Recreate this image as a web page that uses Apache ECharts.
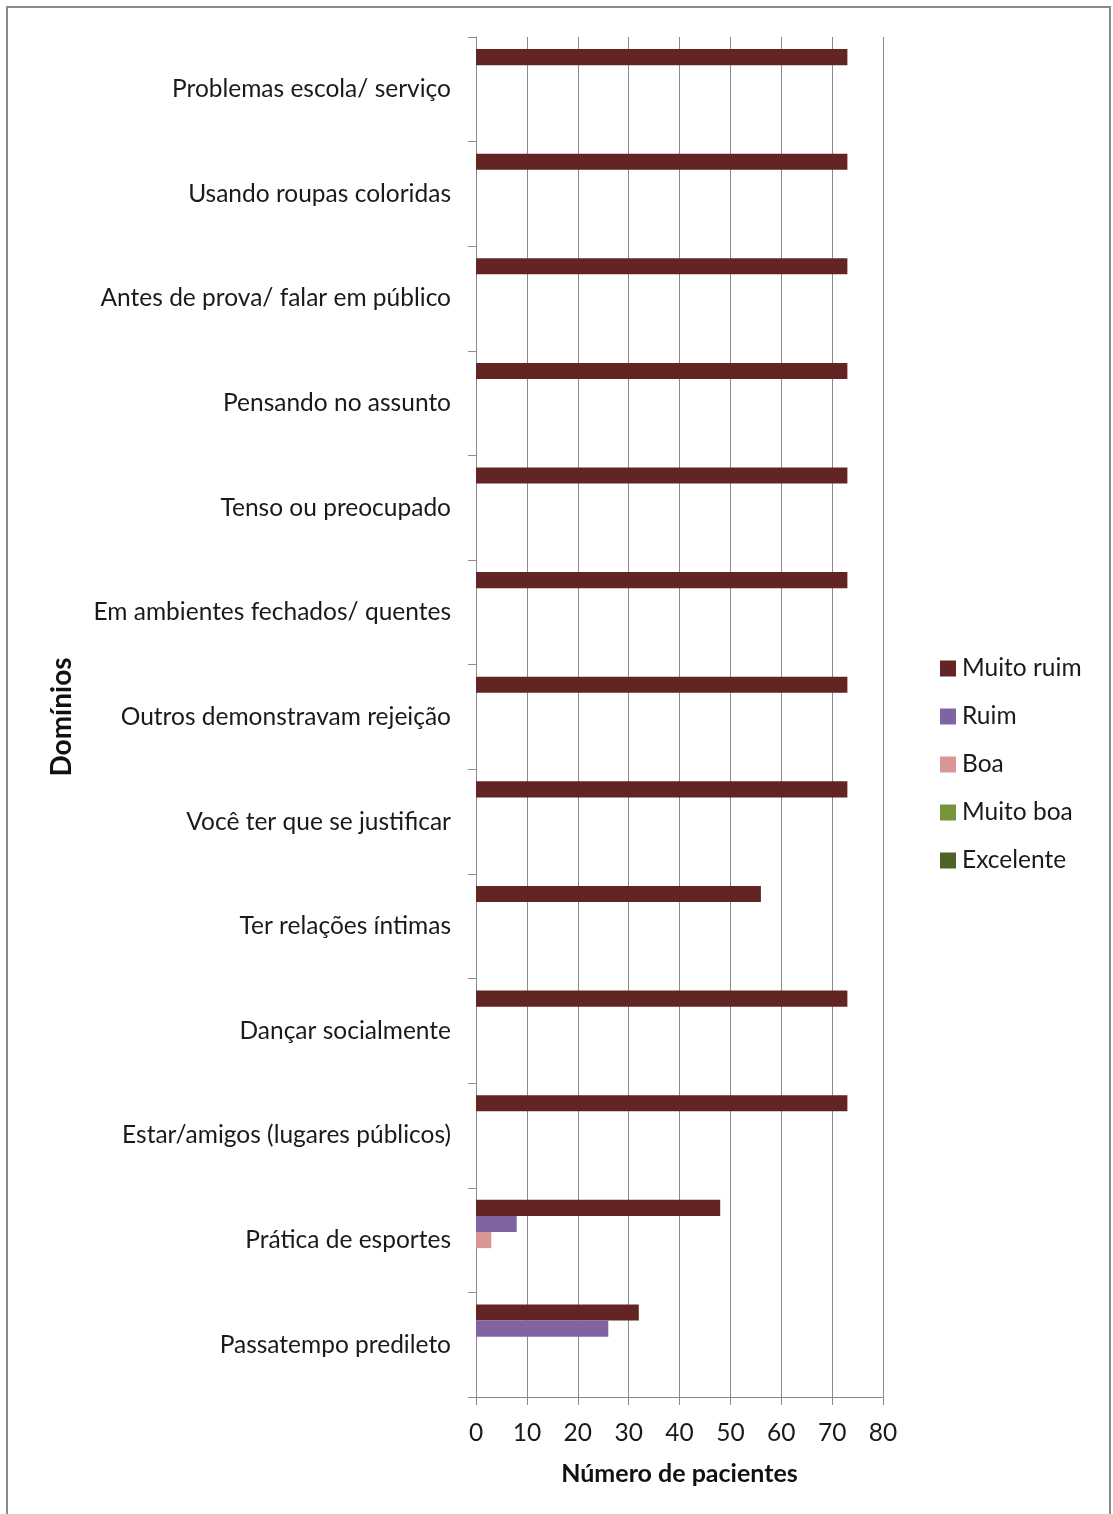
<!DOCTYPE html>
<html>
<head>
<meta charset="utf-8">
<script src="https://cdn.jsdelivr.net/npm/echarts@6/dist/echarts.min.js"></script>
<style>
  html, body { margin: 0; padding: 0; background: #fff; }
  #chart { width: 1113px; height: 1514px; }
</style>
</head>
<body>
<div id="chart"></div>
<script>
// Domains, listed top to bottom
const dominios = [
  'Problemas escola/ serviço',
  'Usando roupas coloridas',
  'Antes de prova/ falar em público',
  'Pensando no assunto',
  'Tenso ou preocupado',
  'Em ambientes fechados/ quentes',
  'Outros demonstravam rejeição',
  'Você ter que se justificar',
  'Ter relações íntimas',
  'Dançar socialmente',
  'Estar/amigos (lugares públicos)',
  'Prática de esportes',
  'Passatempo predileto'
];

// Number of patients per answer, same order as the domains
const muitoRuim = [73, 73, 73, 73, 73, 73, 73, 73, 56, 73, 73, 48, 32];
const ruim      = [0, 0, 0, 0, 0, 0, 0, 0, 0, 0, 0, 8, 26];
const boa       = [0, 0, 0, 0, 0, 0, 0, 0, 0, 0, 0, 3, 0];
const muitoBoa  = [0, 0, 0, 0, 0, 0, 0, 0, 0, 0, 0, 0, 0];
const excelente = [0, 0, 0, 0, 0, 0, 0, 0, 0, 0, 0, 0, 0];

const xTicks = { min: 0, max: 80, interval: 10 };

const FONT = 'Lato, "Open Sans", sans-serif';
const seriesDefs = [
  { name: 'Muito ruim', data: muitoRuim, color: '#632523' },
  { name: 'Ruim',       data: ruim,      color: '#8064A2' },
  { name: 'Boa',        data: boa,       color: '#D99694' },
  { name: 'Muito boa',  data: muitoBoa,  color: '#77933C' },
  { name: 'Excelente',  data: excelente, color: '#4F6228' }
];

const chart = echarts.init(document.getElementById('chart'), null, { renderer: 'canvas' });

chart.setOption({
  backgroundColor: '#ffffff',
  animation: false,
  textStyle: { fontFamily: FONT },
  graphic: [{
    type: 'rect',
    shape: { x: 7, y: 7, width: 1103, height: 1530 },
    style: { fill: 'none', stroke: '#8a8a8a', lineWidth: 2 },
    silent: true
  }],
  grid: { left: 476, right: 230, top: 37, bottom: 117, containLabel: false },
  legend: {
    orient: 'vertical',
    left: 935,
    top: 651,
    itemWidth: 16,
    itemHeight: 16,
    itemGap: 23,
    icon: 'rect',
    textStyle: { fontFamily: FONT, fontSize: 24.5, color: '#1a1a1a', padding: [0, 0, 0, 1] },
    data: seriesDefs.map(s => s.name)
  },
  xAxis: {
    type: 'value',
    min: xTicks.min,
    max: xTicks.max,
    interval: xTicks.interval,
    name: 'Número de pacientes',
    nameLocation: 'middle',
    nameGap: 64,
    nameTextStyle: { fontFamily: FONT, fontSize: 25, fontWeight: 'bold', color: '#111' },
    axisLine: { show: true, lineStyle: { color: '#8a8a8a', width: 1 } },
    axisTick: { show: true, length: 8, lineStyle: { color: '#8a8a8a' } },
    axisLabel: { fontFamily: FONT, fontSize: 24.5, color: '#1a1a1a', margin: 24 },
    splitLine: { show: true, lineStyle: { color: '#8a8a8a', width: 1 } }
  },
  yAxis: {
    type: 'category',
    inverse: true,
    data: dominios,
    name: 'Domínios',
    nameLocation: 'middle',
    nameRotate: 90,
    nameGap: 400,
    nameTextStyle: { fontFamily: FONT, fontSize: 28, fontWeight: 'bold', color: '#111' },
    axisLine: { show: true, lineStyle: { color: '#8a8a8a', width: 1 } },
    axisTick: { show: true, length: 8, lineStyle: { color: '#8a8a8a' } },
    axisLabel: { fontFamily: FONT, fontSize: 24.5, color: '#1a1a1a', margin: 25 },
    splitLine: { show: false }
  },
  series: seriesDefs.map(s => ({
    name: s.name,
    type: 'bar',
    data: s.data,
    barGap: '0%',
    barCategoryGap: '23%',
    itemStyle: { color: s.color, borderWidth: 0 }
  }))
});
</script>
</body>
</html>
